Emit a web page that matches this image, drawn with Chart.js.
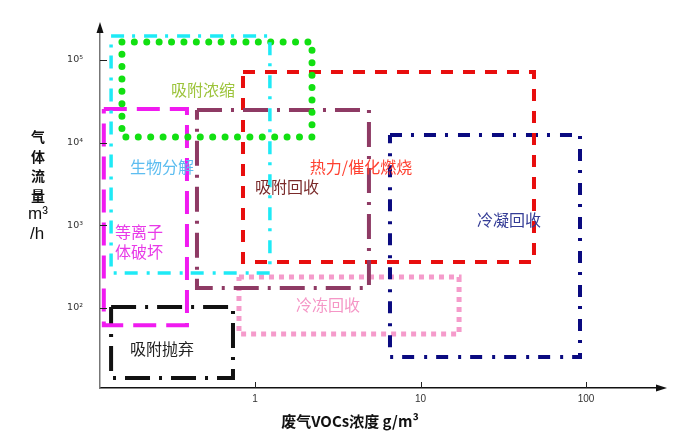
<!DOCTYPE html>
<html>
<head>
<meta charset="utf-8">
<script src="https://cdn.jsdelivr.net/npm/chart.js@4.4.1/dist/chart.umd.min.js"></script>
<style>
  html, body { margin: 0; padding: 0; background: #fff; }
  #wrap { width: 689px; height: 434px; }
</style>
</head>
<body>
<div id="wrap"><canvas id="chart" width="689" height="434"></canvas></div>
<script>
// axis ticks
const xTicks = [1, 10, 100];
const xTickLabels = ['1', '10', '100'];
const yTicks = [100, 1000, 10000, 100000];
const yTickLabels = ['10²', '10³', '10⁴', '10⁵'];

// treatment ranges: concentration (g/m3) and flow (m3/h)
const boxNames = ['生物分解', '吸附浓缩', '等离子体破坏', '吸附回收', '热力/催化燃烧', '冷凝回收', '冷冻回收', '吸附抛弃'];
const boxXMin = [0.135, 0.157, 0.122, 0.446, 0.846, 6.54, 0.80, 0.135];
const boxXMax = [1.23, 2.21, 0.388, 4.88, 48.5, 92, 17.1, 0.736];
const boxYMin = [265, 11700, 62, 175, 360, 25.5, 48.5, 14.2];
const boxYMax = [195000, 165000, 25500, 24800, 71600, 12400, 237, 103];

// label anchor points (data coords)
const labelLines = [['生物分解'], ['吸附浓缩'], ['等离子', '体破坏'], ['吸附回收'], ['热力/催化燃烧'], ['冷凝回收'], ['冷冻回收'], ['吸附抛弃']];
const labelX = [0.274, 0.485, 0.199, 1.56, 4.37, 34.2, 2.76, 0.274];
const labelY = [5080, 43400, 630, 2910, 5080, 1160, 109, 31.9];

const boxStyles = [
    { color: '#1EEAF6', width: 3.5, dash: [13, 8, 3, 9], cap: 'butt' },
    { color: '#12E012', width: 7, dash: [0, 12.4], cap: 'round' },
    { color: '#F01AF0', width: 4, dash: [23, 10], cap: 'butt' },
    { color: '#8E3A64', width: 4, dash: [25, 9, 3, 9], cap: 'butt' },
    { color: '#E80E0E', width: 4, dash: [12, 10], cap: 'butt' },
    { color: '#0A0A80', width: 4, dash: [12, 9, 3, 10], cap: 'butt' },
    { color: '#F59BCB', width: 5, dash: [5, 5], cap: 'butt' },
    { color: '#111111', width: 4, dash: [25, 9, 3, 9], cap: 'butt' },
];
const labelColors = ['#5DBDF0', '#9DC43C', '#E83AE8', '#7A2A2A', '#FF4030', '#343C96', '#F596C6', '#222222'];

const datasets = boxNames.map((name, i) => ({
    label: name,
    data: [
        { x: boxXMin[i], y: boxYMax[i] },
        { x: boxXMax[i], y: boxYMax[i] },
        { x: boxXMax[i], y: boxYMin[i] },
        { x: boxXMin[i], y: boxYMin[i] },
        { x: boxXMin[i], y: boxYMax[i] },
    ],
    showLine: true,
    fill: false,
    tension: 0,
    pointRadius: 0,
    borderColor: boxStyles[i].color,
    borderWidth: boxStyles[i].width,
    borderDash: boxStyles[i].dash,
    borderCapStyle: boxStyles[i].cap,
    borderJoinStyle: 'miter',
}));

const decor = {
    id: 'decor',
    afterDraw(chart) {
        const ctx = chart.ctx;
        const xs = chart.scales.x, ys = chart.scales.y;
        const area = chart.chartArea;
        ctx.save();

        // arrows
        ctx.fillStyle = '#111';
        ctx.beginPath();
        ctx.moveTo(area.left, area.top - 6);
        ctx.lineTo(area.left - 3.5, area.top + 5);
        ctx.lineTo(area.left + 3.5, area.top + 5);
        ctx.closePath();
        ctx.fill();
        ctx.beginPath();
        ctx.moveTo(area.right + 7, area.bottom);
        ctx.lineTo(area.right - 4, area.bottom - 3.5);
        ctx.lineTo(area.right - 4, area.bottom + 3.5);
        ctx.closePath();
        ctx.fill();

        // inward tick marks
        ctx.strokeStyle = '#222';
        ctx.lineWidth = 1;
        xs.ticks.forEach(t => {
            const px = Math.round(xs.getPixelForValue(t.value)) + 0.5;
            ctx.beginPath();
            ctx.moveTo(px, area.bottom);
            ctx.lineTo(px, area.bottom - 6);
            ctx.stroke();
        });
        ys.ticks.forEach(t => {
            const py = Math.round(ys.getPixelForValue(t.value)) + 0.5;
            ctx.beginPath();
            ctx.moveTo(area.left, py);
            ctx.lineTo(area.left + 7, py);
            ctx.stroke();
        });

        // box labels
        ctx.textAlign = 'center';
        ctx.textBaseline = 'middle';
        ctx.font = '16px "Noto Sans CJK SC"';
        labelLines.forEach((lines, i) => {
            const cx = xs.getPixelForValue(labelX[i]);
            const cy = ys.getPixelForValue(labelY[i]);
            ctx.fillStyle = labelColors[i];
            lines.forEach((s, k) => {
                ctx.fillText(s, cx, cy + (k - (lines.length - 1) / 2) * 20);
            });
        });

        // axis titles
        ctx.fillStyle = '#111';
        ctx.font = 'bold 14px "Noto Sans CJK SC"';
        ['气', '体', '流', '量'].forEach((s, k) => ctx.fillText(s, 38, 137 + k * 19.5));
        ctx.font = '17px "Liberation Sans"';
        ctx.fillText('m³', 38, 214);
        ctx.fillText('/h', 37, 234);

        ctx.font = 'bold 15px "Noto Sans CJK SC"';
        ctx.fillText('废气VOCs浓度 g/m³', 350, 421);
        ctx.restore();
    }
};

new Chart(document.getElementById('chart').getContext('2d'), {
    type: 'scatter',
    data: { datasets: datasets },
    options: {
        responsive: false,
        animation: false,
        layout: { padding: { left: 60, right: 29, top: 28, bottom: 0 } },
        plugins: { legend: { display: false }, tooltip: { enabled: false } },
        scales: {
            x: {
                type: 'logarithmic',
                min: 0.1157,
                max: 280,
                afterBuildTicks: scale => { scale.ticks = xTicks.map(v => ({ value: v })); },
                afterFit: scale => { scale.height = 46; },
                grid: { display: true, drawOnChartArea: false, drawTicks: false },
                border: { display: true, color: '#111', width: 1.5 },
                ticks: {
                    padding: 5,
                    color: '#333',
                    font: { family: 'Liberation Sans', size: 10 },
                    maxRotation: 0,
                    autoSkip: false,
                    callback: (val, index) => xTickLabels[index],
                },
            },
            y: {
                type: 'logarithmic',
                min: 10.77,
                max: 243800,
                afterBuildTicks: scale => { scale.ticks = yTicks.map(v => ({ value: v })); },
                afterFit: scale => { scale.width = 40; },
                grid: { display: true, drawOnChartArea: false, drawTicks: false },
                border: { display: true, color: '#777', width: 1.5 },
                ticks: {
                    padding: 17,
                    color: '#333',
                    font: { family: 'DejaVu Sans', size: 9.5 },
                    autoSkip: false,
                    callback: (val, index) => yTickLabels[index],
                },
            },
        },
    },
    plugins: [decor],
});
</script>
</body>
</html>
